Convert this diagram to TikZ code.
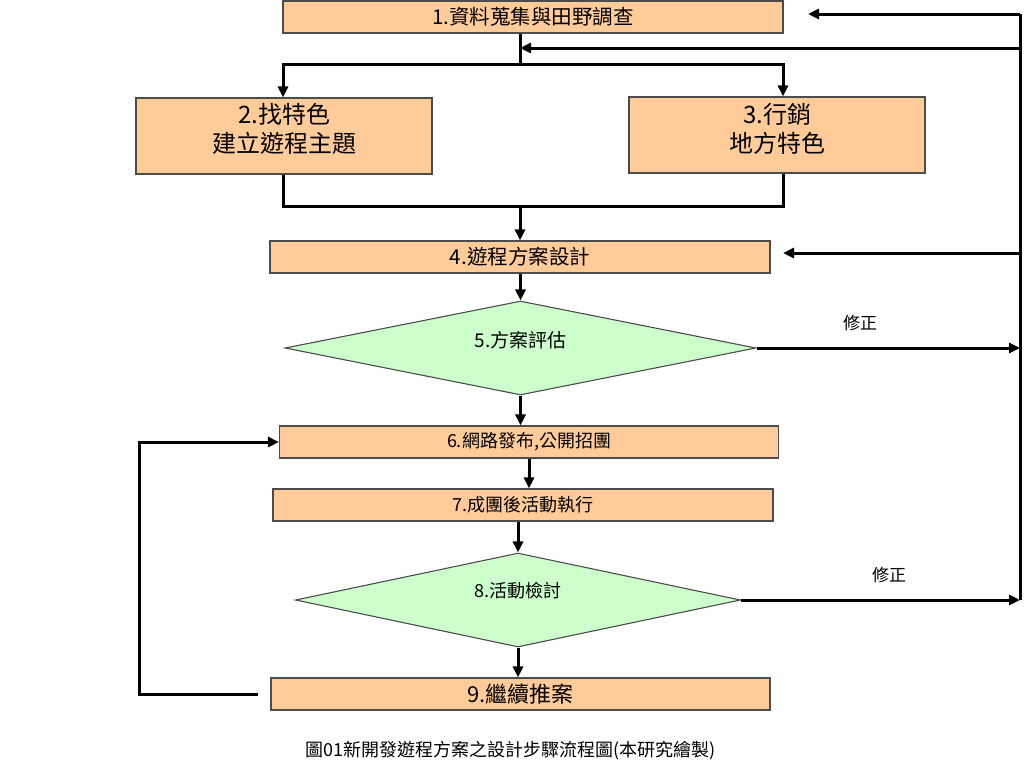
\documentclass[tikz,border=0pt]{standalone}
\usepackage{fontspec}
\setmainfont{Liberation Serif}
\newfontfamily\cjk{Noto Sans CJK TC}
\usetikzlibrary{shapes.geometric}
\usetikzlibrary{arrows.meta}
\definecolor{peach}{HTML}{FFCC99}
\definecolor{mint}{HTML}{CCFFCC}
\newcommand{\fs}[1]{\fontsize{#1}{#1}\selectfont} % font size in px
\newcommand{\up}[2]{\raisebox{#1pt}[0pt][0pt]{#2}} % text lifted (or lowered) in its node

\tikzset{
	stepbox/.style={rectangle, draw=black!70, line width=1.1pt, fill=peach, inner sep=0pt, align=center, font=\cjk},
	checkbox/.style={diamond, aspect=5, draw=black!70, line width=1.1pt, fill=mint, inner sep=0pt, font=\cjk},
	link/.style={line width=3pt},
	flow/.style={line width=3pt, -{Triangle[length=11pt,width=10pt]}}
}

\begin{document}
\begin{tikzpicture}[x=1pt, y=-1pt]
	% canvas: 1024 x 772 px
	\useasboundingbox (0,0) rectangle (1024,772);
	
	% steps
	\node[stepbox, minimum width=500pt, minimum height=32pt, font=\cjk\fs{20.5}] (collect) at (533,17) {1.資料蒐集與田野調查};
	\node[stepbox, minimum width=296pt, minimum height=76pt, font=\cjk\fs{24}] (theme) at (284,136) {\up{-16}{\shortstack{2.找特色\\[3pt]建立遊程主題}}};
	\node[stepbox, minimum width=296pt, minimum height=76pt, font=\cjk\fs{24}] (market) at (777,135) {\up{-17}{\shortstack{3.行銷\\[3pt]地方特色}}};
	\node[stepbox, minimum width=500pt, minimum height=32pt, font=\cjk\fs{20.5}] (design) at (520,257) {4.遊程方案設計};
	\node[checkbox, minimum width=471pt, minimum height=94pt, font=\cjk\fs{19}] (assess) at (520.5,348) {\up{1}{5.方案評估}};
	\node[stepbox, minimum width=499pt, minimum height=32pt, font=\cjk\fs{18}] (publish) at (529,442) {6.網路發布,公開招團};
	\node[stepbox, minimum width=500pt, minimum height=32pt, font=\cjk\fs{18}] (run) at (523,505) {7.成團後活動執行};
	\node[checkbox, minimum width=445pt, minimum height=94pt, font=\cjk\fs{18}] (review) at (518,600) {\up{3}{8.活動檢討}};
	\node[stepbox, minimum width=499pt, minimum height=32pt, font=\cjk\fs{22}] (continue) at (520.5,694) {9.繼續推案};
	
	% split and merge points
	\coordinate (split) at (520,64);
	\coordinate (splitl) at (283,64);
	\coordinate (splitr) at (783,64);
	\coordinate (mergel) at (283,206);
	\coordinate (merger) at (783,206);
	\coordinate (merge) at (520,206);
	
	\draw[link] (collect.south -| split) -- (split);
	\draw[flow] (split) -- (splitl) -- (splitl |- theme.north);
	\draw[flow] (split) -- (splitr) -- (splitr |- market.north);
	\draw[link] (theme.south -| mergel) -- (mergel) -- (merger) -- (market.south -| merger);
	\draw[flow] (merge) -- (merge |- design.north);
	
	% main line
	\draw[flow] (design.south -| assess.north) -- (assess.north);
	\draw[flow] (assess.south) -- (assess.south |- publish.north);
	\draw[flow] (publish.south) -- (publish.south |- run.north);
	\draw[flow] (run.south -| review.north) -- (review.north);
	\draw[flow] (review.south) -- (review.south |- continue.north);
	
	% feedback rail on the right
	\coordinate (railtop) at (1020,14);
	\coordinate (railbot) at (1020,600);
	\coordinate (tipone) at (808,14);
	\coordinate (railmid) at (1020,48);
	\coordinate (railfour) at (1020,253);
	\coordinate (tipfour) at (783,253);
	\draw[link] (railtop) -- (railbot);
	\draw[flow] (railtop) -- (tipone);
	\draw[flow] (railmid) -- (split |- railmid);
	\draw[flow] (railfour) -- (tipfour);
	\draw[flow] (assess.east) -- (assess.east -| railtop);
	\draw[flow] (review.east) -- (review.east -| railtop);
	\node[font=\cjk\fs{17}] (fixa) at (860,323) {修正};
	\node[font=\cjk\fs{17}] (fixb) at (889,575) {修正};
	
	% loop back on the left
	\coordinate (loopstart) at (258,694);
	\coordinate (loopcorner) at (139,694);
	\draw[flow] (loopstart) -- (loopcorner) -- (loopcorner |- publish.west) -- (publish.west);
	
	% caption
	\node[font=\cjk\fs{18}] (caption) at (511,751) {圖01新開發遊程方案之設計步驟流程圖(本研究繪製)};
\end{tikzpicture}
\end{document}
